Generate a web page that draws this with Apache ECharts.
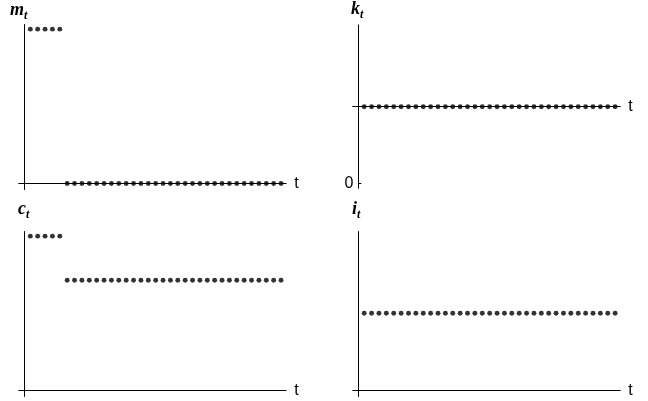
<!DOCTYPE html>
<html><head><meta charset="utf-8">
<script src="https://cdn.jsdelivr.net/npm/echarts@6/dist/echarts.min.js"></script>
<style>html,body{margin:0;padding:0;background:#fff}#c{width:648px;height:401px}</style>
</head><body><div id="c"></div>
<script>
// ---- data ----
const periods = [1,2,3,4,5,6,7,8,9,10,11,12,13,14,15,16,17,18,19,20,21,22,23,24,25,26,27,28,29,30,31,32,33,34,35];
const moneyValues = [1,1,1,1,1,0,0,0,0,0,0,0,0,0,0,0,0,0,0,0,0,0,0,0,0,0,0,0,0,0,0,0,0,0,0];
const capitalValues = [1,1,1,1,1,1,1,1,1,1,1,1,1,1,1,1,1,1,1,1,1,1,1,1,1,1,1,1,1,1,1,1,1,1,1];
const consumptionValues = [1,1,1,1,1,0.714,0.714,0.714,0.714,0.714,0.714,0.714,0.714,0.714,0.714,0.714,0.714,0.714,0.714,0.714,0.714,0.714,0.714,0.714,0.714,0.714,0.714,0.714,0.714,0.714,0.714,0.714,0.714,0.714,0.714];
const investmentValues = [0.5,0.5,0.5,0.5,0.5,0.5,0.5,0.5,0.5,0.5,0.5,0.5,0.5,0.5,0.5,0.5,0.5,0.5,0.5,0.5,0.5,0.5,0.5,0.5,0.5,0.5,0.5,0.5,0.5,0.5,0.5,0.5,0.5,0.5,0.5];
const panelLetters = ['m','k','c','i'];
const timeLabel = 't';
const capitalTickLabel = '0';

function pts(vals){ return periods.map((t,j)=>[t, vals[j]]); }

const black = '#000';
const grids = [
  {left:24.4, top:24.5, width:261.8, height:165},
  {left:358.3, top:25, width:262, height:163.3},
  {left:24.4, top:231.5, width:261.8, height:165},
  {left:358.3, top:231.5, width:262, height:165}
];

function xAx(gi, extra){
  return Object.assign({
    type:'value', gridIndex:gi, min:0.2, max:35.7,
    axisLine:{show:true, onZero:true, lineStyle:{color:black, width:1}},
    axisTick:{show:false}, axisLabel:{show:false}, splitLine:{show:false},
    name:timeLabel, nameLocation:'end', nameGap:8,
    nameTextStyle:{fontFamily:'Liberation Sans', fontSize:16, color:black}
  }, extra||{});
}
function yAx(gi, min, max, extra){
  return Object.assign({
    type:'value', gridIndex:gi, min:min, max:max, position:'left',
    axisLine:{show:true, onZero:false, lineStyle:{color:black, width:1}},
    axisTick:{show:true, customValues:[0], inside:false, length:6, lineStyle:{color:black, width:1}},
    axisLabel:{show:false}, splitLine:{show:false}
  }, extra||{});
}

const yAxes = [
  yAx(0, -0.039, 1.03),
  yAx(1, -0.065, 2.067, {
    axisTick:{show:true, customValues:[0], inside:true, length:3, lineStyle:{color:black, width:1}},
    axisLabel:{show:true, customValues:[0], formatter:()=>capitalTickLabel, margin:5,
      fontFamily:'Liberation Sans', fontSize:16, color:black}
  }),
  yAx(2, -0.039, 1.03),
  yAx(3, -0.039, 1.03),
  // shifted helper axis for k panel: its zero is at the capital level
  yAx(1, -1.065, 1.067, {axisLine:{show:false, onZero:false}})
];
const xAxes = [
  xAx(0), xAx(1, {axisLine:{show:true, onZero:true, onZeroAxisIndex:4, lineStyle:{color:black, width:1}}}),
  xAx(2), xAx(3)
];

const titleRich = {
  a:{fontFamily:'Liberation Serif', fontStyle:'italic', fontWeight:'bold', fontSize:18, color:black, verticalAlign:'bottom', padding:[0,0,3,0]},
  b:{fontFamily:'Liberation Serif', fontStyle:'italic', fontWeight:'bold', fontSize:12, color:black, verticalAlign:'bottom'}
};
const titlePos = [[10,1],[351,0],[18,200],[352,200]];
const titles = panelLetters.map((l,j)=>({
  text:'{a|'+l+'}{b|t}', left:titlePos[j][0], top:titlePos[j][1], padding:0,
  textStyle:{rich:titleRich}
}));

function sc(xi, yi, vals){
  return {type:'scatter', xAxisIndex:xi, yAxisIndex:yi, data:pts(vals), symbol:'circle', symbolSize:4.9,
    itemStyle:{color:black}, silent:true, z:5};
}

const chart = echarts.init(document.getElementById('c'), null, {renderer:'canvas'});
chart.setOption({
  animation:false, backgroundColor:'#fff',
  title:titles, grid:grids, xAxis:xAxes, yAxis:yAxes,
  series:[sc(0,0,moneyValues), sc(1,1,capitalValues), sc(2,2,consumptionValues), sc(3,3,investmentValues)]
});
</script></body></html>
